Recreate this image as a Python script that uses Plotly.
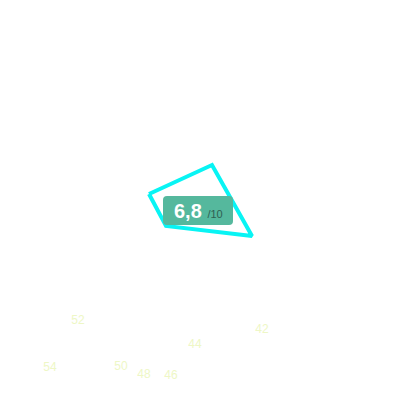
import plotly.graph_objects as go

# Outline points (in 0-400 canvas units)
shape_x = [149, 212, 252, 166, 149]
shape_y = [194, 165, 236, 226, 194]

# Faint value labels along the bottom
label_text = ["52", "42", "44", "54", "50", "48", "46"]
label_x = [78, 262, 195, 50, 121, 144, 171]
label_y = [321, 330, 345, 368, 367, 375, 376]

# Score badge
score = "6,8"
score_max = "/10"

fig = go.Figure()

fig.add_trace(go.Scatter(
    x=shape_x, y=shape_y,
    mode="lines",
    line=dict(color="#08f4f4", width=4),
    hoverinfo="skip",
))

fig.add_trace(go.Scatter(
    x=label_x, y=label_y,
    mode="text",
    text=label_text,
    textfont=dict(family="Arial, Liberation Sans", size=12, color="#eef7c6"),
    hoverinfo="skip",
))

# rounded badge behind the score
bx0, bx1, by0, by1, r = 163, 233, 196, 225, 4
badge_path = (
    f"M {bx0 + r},{by0} L {bx1 - r},{by0} Q {bx1},{by0} {bx1},{by0 + r} "
    f"L {bx1},{by1 - r} Q {bx1},{by1} {bx1 - r},{by1} "
    f"L {bx0 + r},{by1} Q {bx0},{by1} {bx0},{by1 - r} "
    f"L {bx0},{by0 + r} Q {bx0},{by0} {bx0 + r},{by0} Z"
)

# the page body adds an 8px margin, so the axes are shifted to compensate
off = 8

fig.update_layout(
    width=400, height=400,
    margin=dict(l=0, r=0, t=0, b=0),
    paper_bgcolor="white",
    plot_bgcolor="white",
    showlegend=False,
    xaxis=dict(range=[off, 400 + off], visible=False, fixedrange=True),
    yaxis=dict(range=[400 + off, off], visible=False, fixedrange=True),
    shapes=[dict(type="path", path=badge_path, xref="x", yref="y",
                 fillcolor="#55b89d", line=dict(width=0), layer="above")],
    annotations=[dict(
        x=(bx0 + bx1) / 2, y=(by0 + by1) / 2, xref="x", yref="y",
        text=f"<b>{score}</b> <span style='font-size:11px;color:#2f5f53'>{score_max}</span>",
        showarrow=False,
        font=dict(family="Arial, Liberation Sans", size=20, color="white"),
    )],
)

fig.write_html("out.html")
